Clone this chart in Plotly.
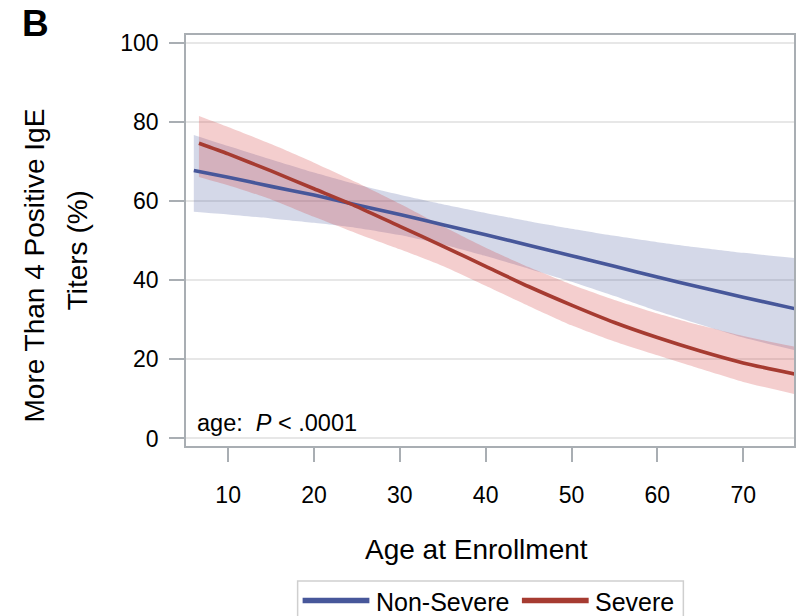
import plotly.graph_objects as go

# Predicted probability (%) of more than 4 positive IgE titers by age at enrollment
series_names = ["Non-Severe", "Severe"]

age_nonsevere = [6.0, 10, 15, 20, 25, 30, 35, 40, 45, 50, 55, 60, 65, 70, 76]
fit_nonsevere = [67.7, 66.0, 63.7, 61.5, 59.0, 56.6, 54.0, 51.5, 48.8, 46.2, 43.5, 40.8, 38.2, 35.7, 32.8]
upper_nonsevere = [76.7, 73.9, 70.5, 67.2, 64.2, 61.6, 59.2, 57.0, 54.9, 53.0, 51.2, 49.6, 48.2, 46.9, 45.6]
lower_nonsevere = [57.3, 56.6, 55.6, 54.5, 53.2, 51.4, 49.0, 46.1, 42.9, 39.6, 36.0, 32.2, 28.8, 25.5, 22.3]

age_severe = [6.6, 10, 15, 20, 25, 30, 35, 40, 45, 50, 55, 60, 65, 70, 76]
fit_severe = [74.6, 71.9, 67.6, 63.1, 58.6, 53.6, 48.6, 43.5, 38.4, 33.7, 29.3, 25.5, 22.1, 19.1, 16.3]
upper_severe = [81.5, 78.7, 74.4, 69.7, 64.7, 59.3, 53.6, 48.2, 43.3, 38.9, 35.0, 31.6, 28.6, 25.9, 23.2]
lower_severe = [66.1, 64.0, 60.4, 56.0, 51.8, 47.8, 43.6, 38.6, 33.5, 28.6, 24.5, 21.0, 17.6, 14.3, 11.2]

x_ticks = [10, 20, 30, 40, 50, 60, 70]
y_ticks = [0, 20, 40, 60, 80, 100]

BLUE = "#47579a"
RED = "#a63b31"
BLUE_BAND = "rgba(71,87,154,0.23)"
RED_BAND = "rgba(210,60,60,0.25)"
FRAME = "#a9aeb3"
GRID = "#e7e7e7"
FONT = "Liberation Sans, Arial, sans-serif"

fig = go.Figure()

# confidence bands (lower edge invisible, upper edge fills down to it)
for ages, lo, hi, col in [
    (age_nonsevere, lower_nonsevere, upper_nonsevere, BLUE_BAND),
    (age_severe, lower_severe, upper_severe, RED_BAND),
]:
    fig.add_trace(go.Scatter(x=ages, y=lo, mode="lines", line=dict(width=0, shape="spline", smoothing=0.6),
                             hoverinfo="skip", showlegend=False))
    fig.add_trace(go.Scatter(x=ages, y=hi, mode="lines", line=dict(width=0, shape="spline", smoothing=0.6),
                             fill="tonexty", fillcolor=col, hoverinfo="skip", showlegend=False))

# fitted curves
fig.add_trace(go.Scatter(x=age_nonsevere, y=fit_nonsevere, mode="lines", name=series_names[0],
                         line=dict(color=BLUE, width=3.6, shape="spline", smoothing=0.6), showlegend=False))
fig.add_trace(go.Scatter(x=age_severe, y=fit_severe, mode="lines", name=series_names[1],
                         line=dict(color=RED, width=3.6, shape="spline", smoothing=0.6), showlegend=False))

W, H = 802, 616
ML, MR, MT, MB = 186, 6, 35, 170
PW, PH = W - ML - MR, H - MT - MB


def px(xp):
    return (xp - ML) / PW


def py(yp):
    return (H - MB - yp) / PH


annotations = [
    dict(text="<b>B</b>", x=px(19), y=py(24), xref="paper", yref="paper", xanchor="left", yanchor="middle",
         showarrow=False, font=dict(size=37, color="black", family=FONT)),
    dict(text="age:  <i>P</i> < .0001", x=px(195), y=py(423), xref="paper", yref="paper",
         xanchor="left", yanchor="middle", showarrow=False, font=dict(size=23.5, color="black", family=FONT)),
    dict(text="Age at Enrollment", x=px(477), y=py(549), xref="paper", yref="paper",
         xanchor="center", yanchor="middle", showarrow=False, font=dict(size=28, color="black", family=FONT)),
    dict(text="More Than 4 Positive IgE", x=px(33), y=py(266), xref="paper", yref="paper", textangle=-90,
         xanchor="center", yanchor="middle", showarrow=False, font=dict(size=28, color="black", family=FONT)),
    dict(text="Titers (%)", x=px(77), y=py(250), xref="paper", yref="paper", textangle=-90,
         xanchor="center", yanchor="middle", showarrow=False, font=dict(size=28, color="black", family=FONT)),
    dict(text=series_names[0], x=px(375), y=py(602), xref="paper", yref="paper", xanchor="left",
         yanchor="middle", showarrow=False, font=dict(size=25, color="black", family=FONT)),
    dict(text=series_names[1], x=px(594), y=py(602), xref="paper", yref="paper", xanchor="left",
         yanchor="middle", showarrow=False, font=dict(size=25, color="black", family=FONT)),
]

shapes = [
    # legend frame
    dict(type="rect", xref="paper", yref="paper", x0=px(298), x1=px(685), y0=py(581), y1=py(650),
         line=dict(color="#cfcfcf", width=1.5), fillcolor="rgba(0,0,0,0)", layer="above"),
    # legend swatches
    dict(type="line", xref="paper", yref="paper", x0=px(303), x1=px(370), y0=py(600.5), y1=py(600.5),
         line=dict(color=BLUE, width=5.5)),
    dict(type="line", xref="paper", yref="paper", x0=px(523), x1=px(590), y0=py(600.5), y1=py(600.5),
         line=dict(color=RED, width=5.5)),
]

fig.update_layout(
    width=W, height=H,
    margin=dict(l=ML, r=MR, t=MT, b=MB, pad=0),
    paper_bgcolor="white", plot_bgcolor="white",
    font=dict(family=FONT, color="black"),
    showlegend=False,
    annotations=annotations,
    shapes=shapes,
    xaxis=dict(range=[5.09, 75.92], tickvals=x_ticks, ticks="outside", ticklen=14, tickwidth=1.5,
               tickcolor=FRAME, showgrid=False, zeroline=False, showline=True, linecolor=FRAME,
               linewidth=1.5, mirror=True, tickfont=dict(size=23, color="black"), ticklabelstandoff=14),
    yaxis=dict(range=[-1.9, 101.95], tickvals=y_ticks, ticks="outside", ticklen=15, tickwidth=1.5,
               tickcolor=FRAME, showgrid=True, gridcolor=GRID, gridwidth=2, zeroline=False, showline=True,
               linecolor=FRAME, linewidth=1.5, mirror=True, tickfont=dict(size=23, color="black"),
               ticklabelstandoff=6),
)

fig.write_html("out.html")
